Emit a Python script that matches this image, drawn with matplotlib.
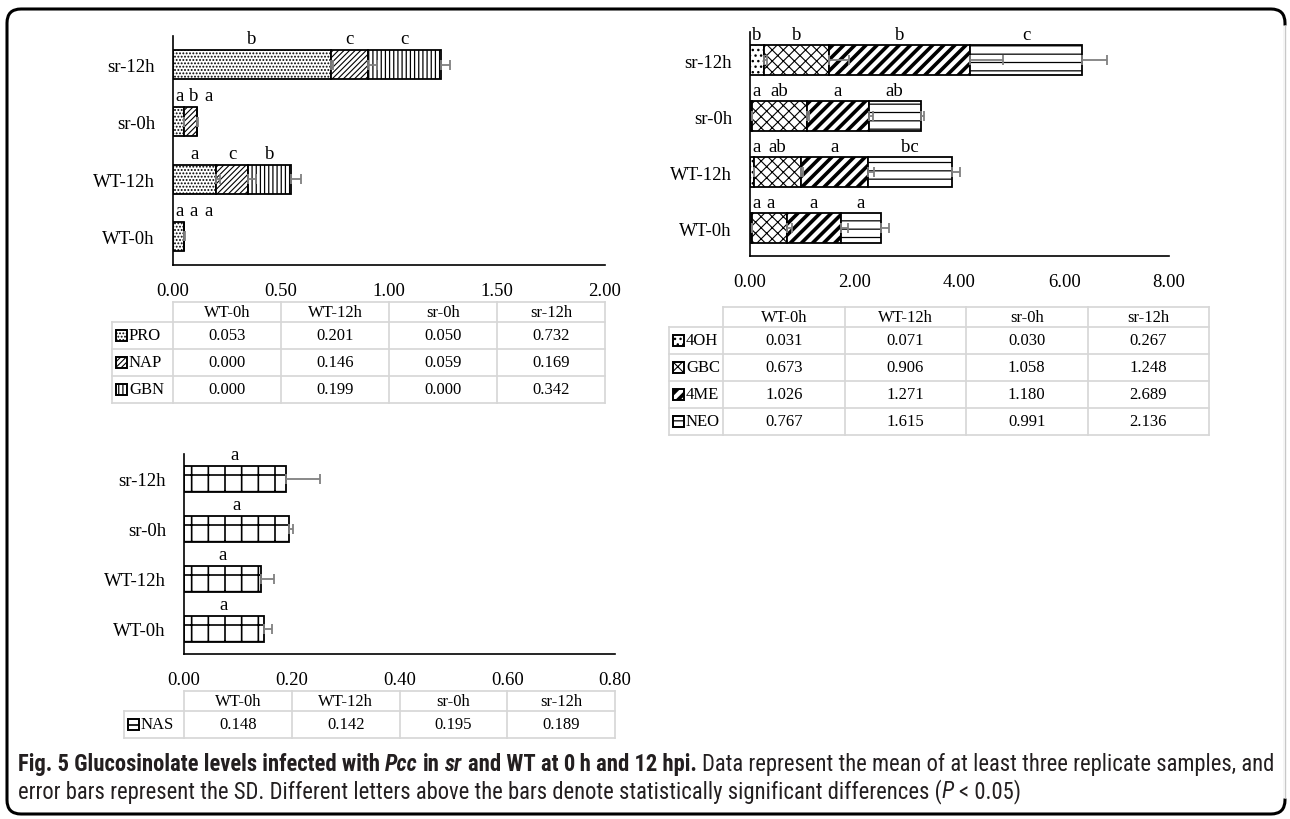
import matplotlib
matplotlib.use("Agg")
import matplotlib.pyplot as plt
import numpy as np
from matplotlib.patches import Rectangle, FancyBboxPatch
from matplotlib.font_manager import FontProperties, findfont

# ---------------------------------------------------------------- data
groups = ["WT-0h", "WT-12h", "sr-0h", "sr-12h"]

# aliphatic glucosinolates
aliph_names = ["PRO", "NAP", "GBN"]
pro = [0.053, 0.201, 0.050, 0.732]
nap = [0.000, 0.146, 0.059, 0.169]
gbn = [0.000, 0.199, 0.000, 0.342]
pro_sd = [0.004, 0.015, 0.003, 0.010]
nap_sd = [0.000, 0.037, 0.006, 0.043]
gbn_sd = [0.000, 0.047, 0.000, 0.039]
pro_sig = ["a", "a", "a", "b"]
nap_sig = ["a", "c", "b", "c"]
gbn_sig = ["a", "b", "a", "c"]

# indolic glucosinolates
indol_names = ["4OH", "GBC", "4ME", "NEO"]
oh4 = [0.031, 0.071, 0.030, 0.267]
gbc = [0.673, 0.906, 1.058, 1.248]
me4 = [1.026, 1.271, 1.180, 2.689]
neo = [0.767, 1.615, 0.991, 2.136]
oh4_sd = [0.010, 0.010, 0.010, 0.050]
gbc_sd = [0.100, 0.030, 0.030, 0.370]
me4_sd = [0.140, 0.120, 0.080, 0.620]
neo_sd = [0.160, 0.140, 0.065, 0.470]
oh4_sig = ["a", "a", "a", "b"]
gbc_sig = ["a", "ab", "ab", "b"]
me4_sig = ["a", "a", "a", "b"]
neo_sig = ["a", "bc", "ab", "c"]

# aromatic glucosinolate
arom_names = ["NAS"]
nas = [0.148, 0.142, 0.195, 0.189]
nas_sd = [0.015, 0.025, 0.007, 0.063]
nas_sig = ["a", "a", "a", "a"]

xticks_aliph = [0.0, 0.5, 1.0, 1.5, 2.0]
xticks_indol = [0.0, 2.0, 4.0, 6.0, 8.0]
xticks_arom = [0.0, 0.2, 0.4, 0.6, 0.8]

# ---------------------------------------------------------------- styles
W, H = 1290, 820
SERIF = "Liberation Serif"
plt.rcParams["font.family"] = [SERIF, "DejaVu Serif"]

fill_style = {
    "PRO": dict(hatch=".....", hlw=0.9),
    "NAP": dict(hatch="//////", hlw=0.8),
    "GBN": dict(hatch="||||", hlw=0.9),
    "4OH": dict(hatch="...", hlw=1.0),
    "GBC": dict(hatch="xxx", hlw=0.8),
    "4ME": dict(hatch="///", hlw=2.6),
    "NEO": dict(hatch="--", hlw=0.9),
    "NAS": dict(hatch="+", hlw=1.2),
}

ERR_COLOR = "#808080"
GRID_COLOR = "#d6d6d6"

fig = plt.figure(figsize=(W / 100, H / 100), dpi=100)
fig.patch.set_facecolor("white")

# full-figure overlay in pixel units for the tables, frame and caption
ov = fig.add_axes([0, 0, 1, 1], zorder=0)
ov.set_xlim(0, W)
ov.set_ylim(H, 0)
ov.axis("off")


def px_axes(x0, y0, x1, y1):
    return fig.add_axes([x0 / W, 1 - y1 / H, (x1 - x0) / W, (y1 - y0) / H], zorder=2)


def apply_hatch(patch, key):
    st = fill_style[key]
    patch.set_hatch(st["hatch"])
    if hasattr(patch, "set_hatch_linewidth"):
        patch.set_hatch_linewidth(st["hlw"])


def stacked_chart(ax, series, sds, sigs, names, xmax, xticks, bar_h):
    y = np.arange(len(groups))
    left = np.zeros(len(groups))
    starts, widths = [], []
    for vals, sd, name in zip(series, sds, names):
        vals = np.asarray(vals, float)
        sd = np.asarray(sd, float)
        bars = ax.barh(y, vals, left=left, height=bar_h, color="white",
                       edgecolor="black", linewidth=1.3, zorder=2)
        for b in bars:
            apply_hatch(b, name)
        ends = left + vals
        m = sd > 0
        ax.errorbar(ends[m], y[m], xerr=[np.zeros(m.sum()), sd[m]], fmt="none",
                    ecolor=ERR_COLOR, elinewidth=1.3, capsize=3.6,
                    capthick=1.3, zorder=3)
        starts.append(left.copy())
        widths.append(vals)
        left = ends

    ax.set_xlim(0, xmax)
    ax.set_ylim(-0.5, len(groups) - 0.5)
    ax.set_xticks(xticks)
    ax.set_xticklabels([f"{t:.2f}" for t in xticks])
    ax.set_yticks(y)
    ax.set_yticklabels(groups)
    ax.tick_params(axis="both", length=0, labelsize=13.5)
    ax.tick_params(axis="x", pad=12)
    ax.tick_params(axis="y", pad=13)
    for s in ("top", "right"):
        ax.spines[s].set_visible(False)
    for s in ("left", "bottom"):
        ax.spines[s].set_linewidth(1.2)
    ax.set_facecolor("none")

    # significance letters, centred on each segment and kept apart
    fig.canvas.draw()
    tr = ax.transData
    inv = tr.inverted()
    axis_px = tr.transform((0, 0))[0]
    for i in range(len(groups)):
        prev_c, prev_w = None, 0
        for k in range(len(series)):
            txt = sigs[k][i]
            w = 8.5 * len(txt)
            c = tr.transform((starts[k][i] + widths[k][i] / 2, i))[0]
            if prev_c is None:
                c = max(c, axis_px + 2 + w / 2)
            else:
                c = max(c, prev_c + prev_w / 2 + 6 + w / 2)
            xd = inv.transform((c, 0))[0]
            ax.annotate(txt, xy=(xd, i + bar_h / 2), xytext=(0, 2),
                        textcoords="offset points", ha="center", va="bottom",
                        fontsize=13.5, annotation_clip=False)
            prev_c, prev_w = c, w


def draw_table(x_key, x_cols, y_rows, names, rows):
    lw = 1.2
    # header row (data columns only)
    ov.plot([x_cols[0], x_cols[-1]], [y_rows[0], y_rows[0]], color=GRID_COLOR, lw=lw)
    for yy in y_rows[1:]:
        ov.plot([x_key, x_cols[-1]], [yy, yy], color=GRID_COLOR, lw=lw)
    ov.plot([x_key, x_key], [y_rows[1], y_rows[-1]], color=GRID_COLOR, lw=lw)
    for xx in x_cols:
        ov.plot([xx, xx], [y_rows[0], y_rows[-1]], color=GRID_COLOR, lw=lw)
    for j, g in enumerate(groups):
        ov.text((x_cols[j] + x_cols[j + 1]) / 2, (y_rows[0] + y_rows[1]) / 2, g,
                ha="center", va="center", fontsize=12)
    for r, (name, vals) in enumerate(zip(names, rows)):
        yc = (y_rows[r + 1] + y_rows[r + 2]) / 2
        key = Rectangle((x_key + 4, yc - 5.5), 11, 11, facecolor="white",
                        edgecolor="black", linewidth=1.4)
        apply_hatch(key, name)
        ov.add_patch(key)
        ov.text(x_key + 17, yc, name, ha="left", va="center", fontsize=12)
        for j, v in enumerate(vals):
            ov.text((x_cols[j] + x_cols[j + 1]) / 2, yc, f"{v:.3f}",
                    ha="center", va="center", fontsize=12)


# ---------------------------------------------------------------- charts
ax1 = px_axes(173, 37, 605, 266)
stacked_chart(ax1, [pro, nap, gbn], [pro_sd, nap_sd, gbn_sd],
              [pro_sig, nap_sig, gbn_sig], aliph_names, 2.0, xticks_aliph, 0.51)

ax2 = px_axes(750, 33, 1169, 257)
stacked_chart(ax2, [oh4, gbc, me4, neo], [oh4_sd, gbc_sd, me4_sd, neo_sd],
              [oh4_sig, gbc_sig, me4_sig, neo_sig], indol_names, 8.0, xticks_indol, 0.52)

ax3 = px_axes(184, 455, 615, 655)
stacked_chart(ax3, [nas], [nas_sd], [nas_sig], arom_names, 0.8, xticks_arom, 0.52)

# ---------------------------------------------------------------- tables
draw_table(112, [173, 281, 389, 497, 605], [303, 323, 350, 377, 404],
           aliph_names, [pro, nap, gbn])
draw_table(669, [723, 844.5, 966, 1087.5, 1209], [308, 328, 355, 382, 409, 436],
           indol_names, [oh4, gbc, me4, neo])
draw_table(124, [184, 291.75, 399.5, 507.25, 615], [692, 712, 739],
           arom_names, [nas])

# ---------------------------------------------------------------- frame
frame = FancyBboxPatch((7, 10), 1278, 805, boxstyle="round,pad=0,rounding_size=14",
                       facecolor="none", edgecolor="black", linewidth=2.2, zorder=5)
ov.add_patch(frame)
ov.plot([1285, 1285], [26, 799], color="white", lw=3.5, zorder=6,
        solid_capstyle="butt")
ov.plot([1285, 1285], [26, 799], color="#c8c8c8", lw=1.0, zorder=7,
        solid_capstyle="butt")

# ---------------------------------------------------------------- caption
def pick_font(cands):
    for c in cands:
        try:
            findfont(FontProperties(family=c), fallback_to_default=False)
            return c
        except Exception:
            continue
    return "DejaVu Sans"


CAP_FONT = pick_font(["Liberation Sans Narrow", "Roboto Condensed",
                      "Open Sans Condensed", "Liberation Sans"])
CAP_COLOR = "#231f20"

line1 = [("Fig. 5 Glucosinolate levels infected with", "bold", "normal", True),
         ("Pcc", "bold", "italic", True),
         ("in", "bold", "normal", True),
         ("sr", "bold", "italic", True),
         ("and WT at 0\u2009h and 12 hpi.", "bold", "normal", True),
         ("Data represent the mean of at least three replicate samples, and",
          "normal", "normal", False)]
line2 = [("error bars represent the SD. Different letters above the bars denote "
          "statistically significant differences (", "normal", "normal", False),
         ("P", "normal", "italic", True),
         ("< 0.05)", "normal", "normal", False)]

renderer = fig.canvas.get_renderer()


def run_width(text, weight, style, size):
    t = fig.text(0, 0, text, fontsize=size, fontweight=weight, fontstyle=style,
                 family=[CAP_FONT, "DejaVu Sans"])
    w = t.get_window_extent(renderer).width
    t.remove()
    return w


def space_width(weight, style, size):
    return run_width("a a", weight, style, size) - run_width("aa", weight, style, size)


def line_width(runs, size):
    total = 0
    for text, wt, st, sp in runs:
        total += run_width(text, wt, st, size)
        if sp:
            total += space_width(wt, st, size)
    return total


base = 12.0
cap_size = base * 1254 / line_width(line1, base)


def draw_line(runs, x0, yc, size):
    x = x0
    for text, wt, st, sp in runs:
        fig.text(x / W, 1 - yc / H, text, fontsize=size, fontweight=wt,
                 fontstyle=st, family=[CAP_FONT, "DejaVu Sans"], color=CAP_COLOR,
                 ha="left", va="center")
        x += run_width(text, wt, st, size)
        if sp:
            x += space_width(wt, st, size)


draw_line(line1, 18, 765, cap_size)
draw_line(line2, 18, 792, cap_size)

fig.savefig("out.png", dpi=100, facecolor="white")
